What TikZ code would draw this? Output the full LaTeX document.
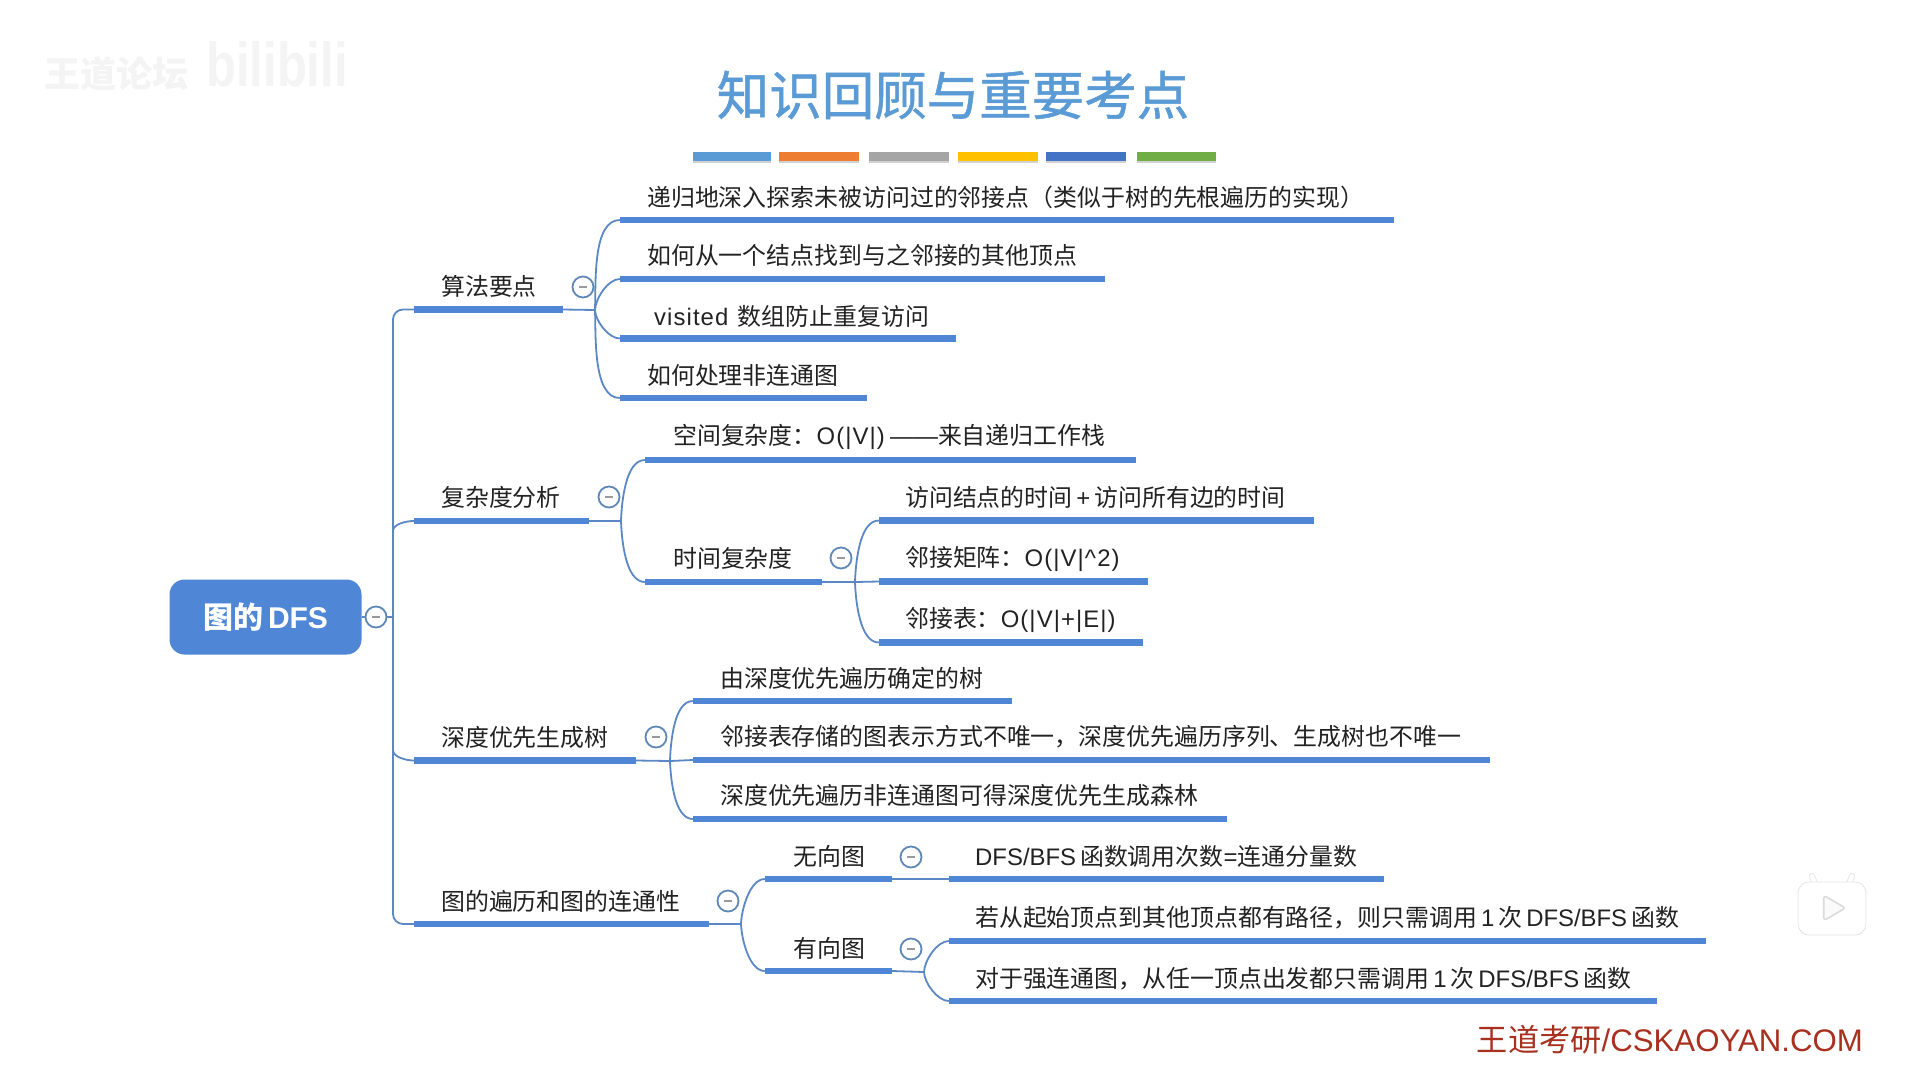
\documentclass[tikz,border=0pt]{standalone}
\usepackage{fontspec}
\setmainfont{Liberation Sans}
\newfontfamily\cjk{Noto Sans CJK SC}
\newfontfamily\cjktitle[FakeBold=1.0]{Noto Sans CJK SC}
\newfontfamily\latw[LetterSpace=4.5]{Liberation Sans}
\usetikzlibrary{shapes.geometric}
\definecolor{barblue}{HTML}{4F87D6}
\definecolor{linkblue}{HTML}{5B88C4}
\definecolor{ringblue}{HTML}{5F88B8}
\definecolor{txt}{HTML}{222222}
\definecolor{titleblue}{HTML}{5B9BD5}
\definecolor{wm}{HTML}{F4F4F4}
\definecolor{redmark}{HTML}{A8301F}
\tikzset{
  barbox/.style={fill=barblue,inner sep=0pt,minimum height=6.5pt,rectangle,draw=none},
  labeltext/.style={anchor=west,inner sep=0pt,text=txt,font=\fontsize{23.9}{28}\selectfont\cjk},
  conn/.style={draw=linkblue,line width=1.8pt},
  ring/.style={circle,draw=ringblue,line width=1.8pt,fill=white,minimum size=21pt,inner sep=0pt},
  dash mark/.style={draw=gray!80,line width=1.2pt},
  up link/.style={out=88,in=180,looseness=.75},
  down link/.style={out=-88,in=180,looseness=.75},
  swatch/.style={rectangle,inner sep=0pt,minimum height=9pt,minimum width=78pt,draw=none},
}
\newcommand{\bartopic}[7]{%
  \pgfmathsetmacro\bw{#3-#2}\pgfmathsetmacro\cx{(#3+#2)/2}%
  \node[barbox,minimum width=\bw pt] (#1) at (\cx,#4) {};%
  \node[labeltext] (#1t) at (#5,#6) {#7};}
\newcommand{\collapse}[3]{%
  \node[ring] (#1) at (#2,#3) {};%
  \draw[dash mark] ([xshift=-4pt]#1.center) -- ([xshift=4pt]#1.center);}
\newcommand{\lat}[1]{{\fontspec{Liberation Sans}#1}}
\newcommand{\wid}[1]{{\latw #1}}
\begin{document}
\begin{tikzpicture}[x=1pt,y=-1pt]
\useasboundingbox[fill=white] (0,0) rectangle (1909,1069);

% watermarks
\node[inner sep=0pt,text=wm,font=\fontsize{36}{40}\selectfont\cjk\bfseries] (wm1) at (116,74) {王道论坛};
\node[inner sep=0pt,text=wm,xscale=.79,font=\fontsize{62}{66}\selectfont\bfseries] (wm2) at (277,64) {bilibili};

% title
\node[inner sep=0pt,text=titleblue,font=\fontsize{52.5}{60}\selectfont\cjktitle] (title) at (953,95) {知识回顾与重要考点};
\foreach \n/\x/\w/\c in {s1/732/78/5B9BD5,s2/819/80/ED7D31,s3/909/80/A5A5A5,s4/998/80/FFC000,s5/1086/80/4472C4,s6/1176/79/70AD47}{
  \definecolor{sw}{HTML}{\c}
  \fill[gray!35] (\x-\w/2,159) rectangle (\x+\w/2,163);
  \node[swatch,fill=sw,minimum width=\w pt] (\n) at (\x,156.5) {};
}

% root
\node[rectangle,rounded corners=15pt,fill=barblue,minimum width=192pt,minimum height=75pt,inner sep=0pt,text=white,font=\fontsize{30}{32}\selectfont\cjk\bfseries] (root) at (265.5,617) {图的\,\lat{DFS}};

% level 1
\bartopic{a}{414}{563}{309.5}{441}{286}{算法要点}
\bartopic{b}{414}{589}{521}{441}{497}{复杂度分析}
\bartopic{c}{414}{636}{760.5}{441}{737}{深度优先生成树}
\bartopic{d}{414}{709}{924}{441}{901}{图的遍历和图的连通性}

% 算法要点
\bartopic{a1}{620}{1394}{220}{647}{197}{递归地深入探索未被访问过的邻接点（类似于树的先根遍历的实现）}
\bartopic{a2}{620}{1105}{279}{647}{255}{如何从一个结点找到与之邻接的其他顶点}
\bartopic{a3}{620}{956}{338.5}{654}{316.5}{\wid{visited}\, 数组防止重复访问}
\bartopic{a4}{620}{867}{398}{647}{375}{如何处理非连通图}

% 复杂度分析
\bartopic{b1}{645}{1136}{460}{673}{437}{空间复杂度：\wid{O(|V|)} \lat{——}来自递归工作栈}
\bartopic{b2}{645}{822}{582}{673}{558}{时间复杂度}
\bartopic{b21}{879}{1314}{520.5}{905}{497}{访问结点的时间\,\lat{+}\,访问所有边的时间}
\bartopic{b22}{879}{1148}{581.5}{905}{558.5}{邻接矩阵：\wid{O(|V|\textasciicircum 2)}}
\bartopic{b23}{879}{1143}{642.5}{905}{619.5}{邻接表：\wid{O(|V|+|E|)}}

% 深度优先生成树
\bartopic{c1}{693}{1012}{701}{720}{678}{由深度优先遍历确定的树}
\bartopic{c2}{693}{1490}{760}{720}{737}{邻接表存储的图表示方式不唯一，深度优先遍历序列、生成树也不唯一}
\bartopic{c3}{693}{1227}{819}{720}{795.5}{深度优先遍历非连通图可得深度优先生成森林}

% 图的遍历和图的连通性
\bartopic{d1}{765}{892}{879}{793}{856}{无向图}
\bartopic{d2}{765}{892}{971}{793}{948}{有向图}
\bartopic{d11}{949}{1384}{879}{975}{856.5}{\lat{DFS/BFS}\,函数调用次数\lat{=}连通分量数}
\bartopic{d21}{949}{1706}{941}{975}{917.5}{若从起始顶点到其他顶点都有路径，则只需调用\,\lat{1}\,次\,\lat{DFS/BFS}\,函数}
\bartopic{d22}{949}{1657}{1001}{975}{978.5}{对于强连通图，从任一顶点出发都只需调用\,\lat{1}\,次\,\lat{DFS/BFS}\,函数}

% junctions
\coordinate (ja) at (595,310);
\coordinate (jb) at (621,521);
\coordinate (jb2) at (855,582);
\coordinate (jc) at (670,761);
\coordinate (jd) at (741,924);
\coordinate (jd2) at (924,972);
\coordinate (trunkr) at (393,617);
\coordinate (trunkb) at (393,531);
\coordinate (trunkc) at (393,750);

% trunk
\draw[conn,rounded corners=10pt] (a.west) -| (trunkr) |- (d.west);
\draw[conn] (root.east) -- (trunkr);
\draw[conn] (trunkb) to[out=90,in=180,looseness=.8] (b.west);
\draw[conn] (trunkc) to[out=-90,in=180,looseness=.8] (c.west);

% links
\foreach \p/\j in {a/ja,b/jb,b2/jb2,c/jc,d/jd,d2/jd2}{\draw[conn] (\p.east) -- (\j);}
\draw[conn] (d1.east) -- (d11.west);
\draw[conn] (ja) to[up link] (a1.west);
\draw[conn] (ja) to[up link] (a2.west);
\draw[conn] (ja) to[down link] (a3.west);
\draw[conn] (ja) to[down link] (a4.west);
\draw[conn] (jb) to[up link] (b1.west);
\draw[conn] (jb) to[down link] (b2.west);
\draw[conn] (jb2) to[up link] (b21.west);
\draw[conn] (jb2) -- (b22.west);
\draw[conn] (jb2) to[down link] (b23.west);
\draw[conn] (jc) to[up link] (c1.west);
\draw[conn] (jc) -- (c2.west);
\draw[conn] (jc) to[down link] (c3.west);
\draw[conn] (jd) to[up link] (d1.west);
\draw[conn] (jd) to[down link] (d2.west);
\draw[conn] (jd2) to[up link] (d21.west);
\draw[conn] (jd2) to[down link] (d22.west);

% collapse rings
\collapse{r0}{376}{617}
\collapse{ra}{583}{287}
\collapse{rb}{609}{497}
\collapse{rb2}{841}{558}
\collapse{rc}{656}{737}
\collapse{rd}{728}{901}
\collapse{rd1}{911}{857}
\collapse{rd2}{911}{949}

% corner mark
\node[inner sep=0pt,anchor=east,text=redmark,font=\fontsize{31.2}{36}\selectfont] (mark) at (1863,1040) {{\cjk 王道考研}/CSKAOYAN.COM};

% play icon
\draw[gray!22,line width=6pt,line cap=round] (1816,886) -- (1812,876) (1848,886) -- (1852,876);
\draw[white,line width=4.4pt,line cap=round] (1816,886) -- (1812,876) (1848,886) -- (1852,876);
\node[rectangle,rounded corners=11pt,draw=gray!22,line width=.8pt,fill=white,minimum width=68pt,minimum height=53pt,inner sep=0pt] (tv) at (1832,908.5) {};
\node[regular polygon,regular polygon sides=3,shape border rotate=-90,draw=gray!28,line width=1.6pt,fill=gray!4,rounded corners=3pt,minimum size=29pt,inner sep=0pt] (play) at (1831,908) {};
\end{tikzpicture}
\end{document}
